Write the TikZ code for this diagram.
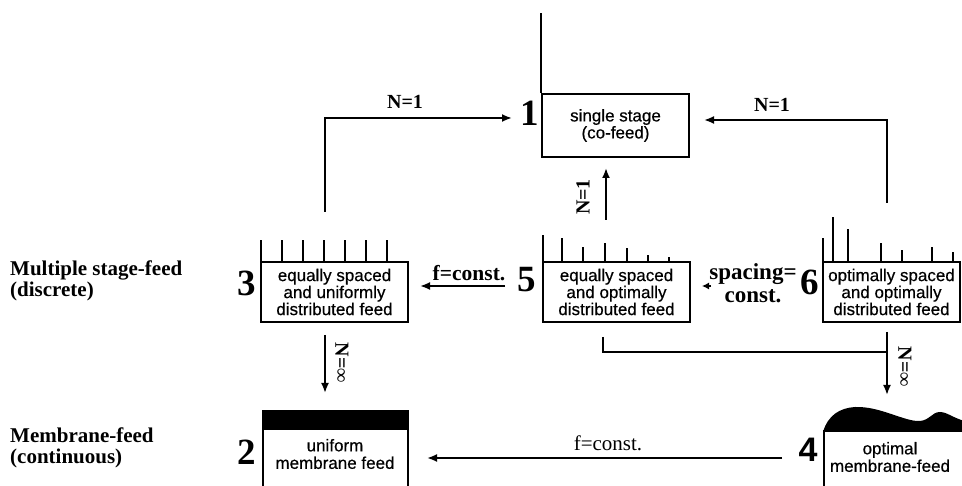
\documentclass[tikz,border=0pt]{standalone}
\usepackage{fontspec}
\setmainfont{Liberation Serif}
\setsansfont{Liberation Sans}
\newfontfamily\boxfont{Liberation Sans}[FakeBold=0.5]
\usetikzlibrary{arrows.meta}
\tikzset{
  stagebox/.style={draw, line width=2.4pt, minimum width=147pt, minimum height=60pt, inner sep=0pt,
    font=\boxfont\fontsize{17}{17}\selectfont, align=center},
  boxtext/.style={font=\boxfont\fontsize{17}{17.5}\selectfont, align=center, inner sep=0pt},
  num/.style={font=\bfseries\fontsize{37}{37}\selectfont, inner sep=0pt},
  lab/.style={font=\bfseries\fontsize{20}{20}\selectfont, inner sep=0pt},
  rowlab/.style={font=\bfseries\fontsize{21}{20.5}\selectfont, inner sep=0pt, align=left, anchor=west},
  conn/.style={line width=1.9pt, -{Latex[length=10pt,width=8pt]}},
  plainline/.style={line width=1.9pt},
  feedtick/.style={line width=1.6pt},
}
\begin{document}
\begin{tikzpicture}[x=1pt,y=-1pt]
\useasboundingbox (0,0) rectangle (962,486);
\clip (0,0) rectangle (962,486);
\fill[white] (0,0) rectangle (962,486);

% row labels
\node[rowlab] (rowA) at (10,281) {Multiple stage-feed\\(discrete)};
\node[rowlab] (rowB) at (10,448) {Membrane-feed\\(continuous)};

% boxes
\node[stagebox, minimum height=63pt] (b1) at (615.5,125.5) {single stage\\(co-feed)};
\node[stagebox] (b3) at (334.5,292) {equally spaced\\and uniformly\\distributed feed};
\node[stagebox] (b5) at (616.5,292) {equally spaced\\and optimally\\distributed feed};
\node[stagebox, minimum width=137pt] (b6) at (891.5,292) {optimally spaced\\and optimally\\distributed feed};
\node[draw, line width=2.4pt, minimum width=145pt, minimum height=90pt, anchor=north west, inner sep=0pt] (b2) at (262,410) {};
\node[draw, line width=2.4pt, minimum width=152pt, minimum height=80pt, anchor=north west, inner sep=0pt] (b4) at (823,430) {};
\node[boxtext] (t2) at (335,454) {uniform\\membrane feed};
\node[boxtext] (t4) at (890,457) {optimal\\membrane-feed};

% membrane layers
\fill (262,410) rectangle (407,430);
\fill (823,432) .. controls (828,415) and (840,408) .. (855,407)
  .. controls (880,406) and (905,422) .. (920,421)
  .. controls (930,420) and (932,412) .. (940,412)
  .. controls (948,412) and (955,420) .. (970,422) -- (970,431) -- (823,431) -- cycle;

% numbers
\node[num] (n1) at (530,113) {1};
\node[num] (n3) at (247,283) {3};
\node[num] (n5) at (527,280) {5};
\node[num] (n6) at (810,282) {6};
\node[num] (n2) at (247,452) {2};
\node[num, font=\sffamily\bfseries\fontsize{34}{34}\selectfont] (n4) at (808,450) {4};

% feed line above box 1
\draw[plainline] (b1.north west) -- ++(0,-80);

% ticks box 3
\foreach \x in {261,282,303,324,345,366,387}
  \draw[feedtick] (\x,262) -- (\x,240);
% ticks box 5
\foreach \x/\t in {543/235,562/238,583/247,605/243,627/248,648/255,669/257}
  \draw[feedtick] (\x,262) -- (\x,\t);
% ticks box 6
\foreach \x/\t in {823/238,833/217,848/229,881/243,902/250,932/247,953/252}
  \draw[feedtick] (\x,262) -- (\x,\t);

% coordinates for free ends
\coordinate (c3up) at (325,212);
\coordinate (c6up) at (887,203);
\coordinate (c5up) at (606,220);
\coordinate (c1bot) at (606,168);
\coordinate (c3dn) at (325,335);
\coordinate (c2top) at (325,393);
\coordinate (c5dn) at (603,337);
\coordinate (c6dn) at (887,332);
\coordinate (c4top) at (887,395);
\coordinate (c5w) at (505,286);
\coordinate (c3e) at (420,286);

% connectors
\draw[conn] (c3up) -- (325,118) -- (512,118);
\node[lab] (lN1a) at (405,102) {N=1};
\draw[conn] (c6up) -- (887,120) -- (704,120);
\node[lab] (lN1b) at (772,105) {N=1};
\draw[conn] (c5up) -- (c1bot);
\node[lab, rotate=90] (lN1c) at (583,197) {N=1};

\draw[conn] (c5w) -- (c3e);
\node[lab, font=\bfseries\fontsize{21.5}{21.5}\selectfont] (lf1) at (469,273) {f=const.};

\draw[line width=1.2pt, -{Latex[length=7pt,width=7pt]}] (711,286) -- (702,286);
\node[lab, align=center, font=\bfseries\fontsize{23}{23}\selectfont] (lsp) at (753,283) {spacing=\\const.};

\draw[conn] (c3dn) -- (c2top);
\node[lab, rotate=-90] (lNia) at (342,363) {N=∞};

\draw[plainline] (c5dn) -- (603,352) -- (887,352);
\draw[conn] (c6dn) -- (c4top);
\node[lab, rotate=-90] (lNib) at (905,367) {N=∞};

\draw[conn] (782,458) -- (427,458);
\node[lab, font=\fontsize{21}{21}\selectfont] (lf2) at (608,443) {f=const.};
\end{tikzpicture}
\end{document}
